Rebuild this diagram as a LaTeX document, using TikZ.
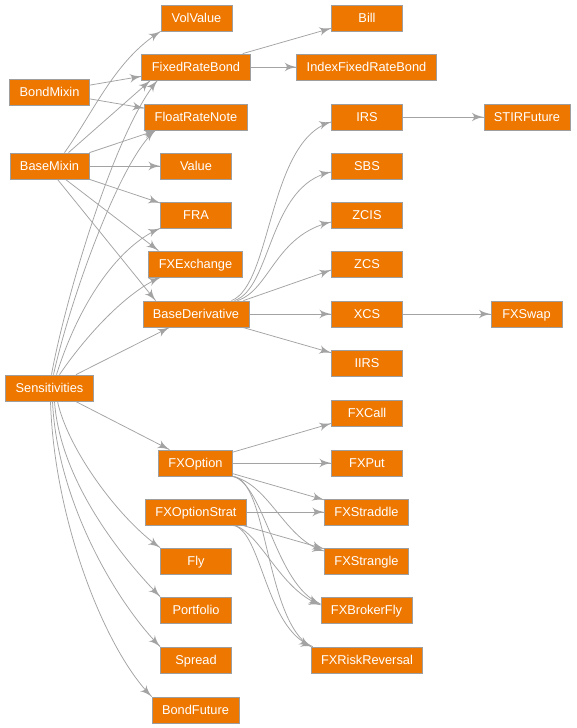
\documentclass[tikz,border=0pt]{standalone}
\usepackage{fontspec}
\setmainfont{Liberation Sans}
\usetikzlibrary{arrows}
\usetikzlibrary{backgrounds}
\usetikzlibrary{decorations.markings}
\definecolor{clsfill}{HTML}{EE7700}
\definecolor{clsline}{HTML}{9E9E9E}
\definecolor{edgeline}{HTML}{A3A3A3}
\tikzset{->/.style = {decoration={markings,
                                  mark=at position 0.999 with {\arrow[scale=2.3]{latex'}}},
                      postaction={decorate}}}
\tikzset{cls/.style = {draw = clsline, fill = clsfill, text = white, line width = 0.8pt,
                       minimum width = 71pt, minimum height = 26pt, inner xsep = 10pt, inner ysep = 0pt,
                       text height = 9.2pt, text depth = 0pt, font = \fontsize{12.8}{14}\selectfont}}
\begin{document}
\begin{tikzpicture}[x = 1pt, y = -1pt]
  \useasboundingbox (0, 0) rectangle (576, 728);
  \node [cls] (volvalue) at (196.5, 18) {VolValue};
  \node [cls] (bill) at (367, 18) {Bill};
  \node [cls] (frb) at (196, 67) {FixedRateBond};
  \node [cls] (ifrb) at (366.5, 67) {IndexFixedRateBond};
  \node [cls] (bondmixin) at (49.5, 92) {BondMixin};
  \node [cls] (frn) at (196, 117) {FloatRateNote};
  \node [cls] (irs) at (367, 117) {IRS};
  \node [cls] (stir) at (527, 117) {STIRFuture};
  \node [cls] (basemixin) at (49.5, 166) {BaseMixin};
  \node [cls] (value) at (196, 166) {Value};
  \node [cls] (sbs) at (367, 166) {SBS};
  \node [cls] (fra) at (196, 215) {FRA};
  \node [cls] (zcis) at (367, 215) {ZCIS};
  \node [cls] (fxe) at (195.5, 264) {FXExchange};
  \node [cls] (zcs) at (367, 264) {ZCS};
  \node [cls] (bd) at (196, 314) {BaseDerivative};
  \node [cls] (xcs) at (367, 314) {XCS};
  \node [cls] (fxswap) at (526.5, 314) {FXSwap};
  \node [cls] (iirs) at (367, 363) {IIRS};
  \node [cls] (sens) at (49.5, 388) {Sensitivities};
  \node [cls] (fxcall) at (367, 413) {FXCall};
  \node [cls] (fxo) at (195.5, 463) {FXOption};
  \node [cls] (fxput) at (367, 463) {FXPut};
  \node [cls] (fxos) at (196, 512) {FXOptionStrat};
  \node [cls] (fxstraddle) at (366.5, 512) {FXStraddle};
  \node [cls] (fly) at (196, 561) {Fly};
  \node [cls] (fxstrangle) at (366.5, 561) {FXStrangle};
  \node [cls] (portfolio) at (196, 610) {Portfolio};
  \node [cls] (fxbf) at (366.5, 610) {FXBrokerFly};
  \node [cls] (spread) at (196, 660) {Spread};
  \node [cls] (fxrr) at (367, 660) {FXRiskReversal};
  \node [cls] (bondfuture) at (195.5, 710) {BondFuture};
  \begin{scope}[on background layer]
    \fill [white] (0, 0) rectangle (576, 728);
    \begin{scope}[edgeline, line width = 0.75pt]
    \draw [->] (bondmixin) -- (frb);
    \draw [->] (bondmixin) -- (frn);
    \draw [->] ([xshift = 15pt]basemixin.north) .. controls (95, 110) and (115, 60) .. (volvalue.south west);
    \draw [->] ([xshift = 19pt]basemixin.north) -- ([xshift = 9pt]frb.south west);
    \draw [->] (basemixin) -- (frn);
    \draw [->] (basemixin) -- (value);
    \draw [->] (basemixin) -- (fra);
    \draw [->] ([xshift = 16pt]basemixin.south) -- ([xshift = 10pt]fxe.north west);
    \draw [->] ([xshift = 8pt]basemixin.south) -- ([xshift = 13pt]bd.north west);
    \draw [->] ([xshift = 2pt]sens.north) .. controls (65, 300) and (115, 130) .. ([xshift = 16pt]frb.south west);
    \draw [->] ([xshift = 4pt]sens.north) .. controls (70, 300) and (120, 160) .. ([xshift = 11pt]frn.south west);
    \draw [->] ([xshift = 7pt]sens.north) .. controls (80, 300) and (120, 245) .. (fra.south west);
    \draw [->] ([xshift = 10pt]sens.north) .. controls (90, 330) and (130, 290) .. ([xshift = 12pt]fxe.south west);
    \draw [->] (sens) -- (bd);
    \draw [->] (sens) -- (fxo);
    \draw [->] ([xshift = 8pt]sens.south) .. controls (68, 450) and (120, 520) .. (fly.north west);
    \draw [->] ([xshift = 5pt]sens.south) .. controls (60, 480) and (121, 557) .. (portfolio.north west);
    \draw [->] ([xshift = 3pt]sens.south) .. controls (57, 500) and (115, 601) .. (spread.north west);
    \draw [->] ([xshift = 1pt]sens.south) .. controls (54, 520) and (105, 650) .. (bondfuture.north west);
    \draw [->] (frb) -- (bill);
    \draw [->] (frb) -- (ifrb);
    \draw [->] ([xshift = -18pt]bd.north east) .. controls (272, 285) and (268, 140) .. ([yshift = -5pt]irs.west);
    \draw [->] ([xshift = -15pt]bd.north east) .. controls (272, 288) and (268, 185) .. ([yshift = -6pt]sbs.west);
    \draw [->] ([xshift = -12pt]bd.north east) .. controls (270, 290) and (275, 235) .. ([yshift = -7pt]zcis.west);
    \draw [->] ([xshift = -6pt]bd.north east) -- ([yshift = -6pt]zcs.west);
    \draw [->] (bd) -- (xcs);
    \draw [->] (bd) -- (iirs);
    \draw [->] (irs) -- (stir);
    \draw [->] (xcs) -- (fxswap);
    \draw [->] (fxo) -- (fxcall);
    \draw [->] (fxo) -- (fxput);
    \draw [->] (fxo) -- (fxstraddle);
    \draw [->] (fxo.south east) .. controls (270, 485) and (285, 540) .. ([yshift = 10pt]fxstrangle.west);
    \draw [->] (fxo.south east) .. controls (265, 485) and (275, 585) .. ([yshift = 6pt]fxbf.west);
    \draw [->] (fxo.south east) .. controls (268, 480) and (265, 620) .. (fxrr.north west);
    \draw [->] (fxos) -- (fxstraddle);
    \draw [->] (fxos) -- (fxstrangle);
    \draw [->] ([xshift = -12pt]fxos.south east) .. controls (262, 535) and (280, 590) .. ([yshift = 5pt]fxbf.west);
    \draw [->] ([xshift = -14pt]fxos.south east) .. controls (262, 530) and (265, 630) .. ([xshift = 2pt]fxrr.north west);
    \end{scope}
  \end{scope}
\end{tikzpicture}
\end{document}
